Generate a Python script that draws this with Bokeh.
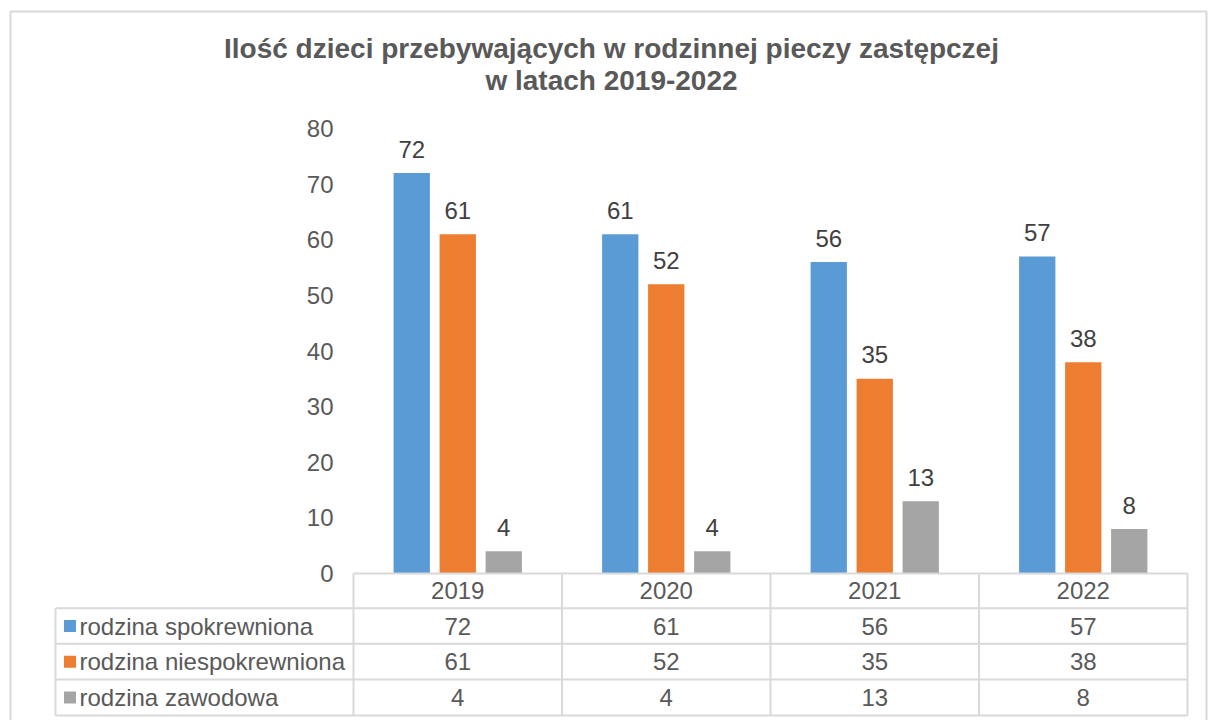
from bokeh.plotting import figure
from bokeh.models import Range1d, LinearAxis, FixedTicker, ColumnDataSource
from bokeh.core.properties import value
from bokeh.embed import file_html
from bokeh.resources import INLINE

# ---- data ----
years = ["2019", "2020", "2021", "2022"]
series_names = ["rodzina spokrewniona", "rodzina niespokrewniona", "rodzina zawodowa"]
spokrewniona = [72, 61, 56, 57]
niespokrewniona = [61, 52, 35, 38]
zawodowa = [4, 4, 13, 8]
y_ticks = [0, 10, 20, 30, 40, 50, 60, 70, 80]
title_lines = ["Ilość dzieci przebywających w rodzinnej pieczy zastępczej", "w latach 2019-2022"]

series_values = [spokrewniona, niespokrewniona, zawodowa]
colors = ["#5b9bd5", "#ed7d31", "#a5a5a5"]

# ---- layout helpers (page pixel -> data) ----
X0, XS = 353.0, 208.5      # page x of category 0, px per category
Y0, YS = 573.0, 5.5625     # page y of value 0, px per unit
def dx(px): return (px - X0) / XS
def dy(py): return (Y0 - py) / YS

W, H = 1208, 720
OFF = 0
FONT = "Liberation Sans"
TXT = "#595959"
FS = "24px"

p = figure(width=W, height=H, output_backend="svg", toolbar_location=None,
           x_range=Range1d(dx(OFF), dx(OFF + W)), y_range=Range1d(dy(OFF + H), dy(OFF)),
           x_axis_location=None, y_axis_location=None, min_border=0,
           tools="")
p.outline_line_color = None
p.grid.visible = False
p.background_fill_color = "white"
p.border_fill_color = "white"

# outer chart border
p.line([dx(10), dx(10), dx(1206), dx(1206)], [dy(725), dy(11), dy(11), dy(725)],
       line_color="#d9d9d9", line_width=2)

# title
for i, t in enumerate(title_lines):
    p.text([dx(611)], [dy(48 + 32 * i)], text=[t], text_align="center", text_baseline="middle",
           text_font=value(FONT), text_font_size="28px", text_font_style="bold", text_color=TXT)

# y axis at x = 0
yax = LinearAxis(fixed_location=0, ticker=FixedTicker(ticks=y_ticks),
                 axis_line_color=None, major_tick_line_color=None, minor_tick_line_color=None,
                 major_label_standoff=14, major_label_text_font=FONT,
                 major_label_text_font_size=FS, major_label_text_color=TXT)
p.add_layout(yax, "left")

# bars
bw = 36.3 / XS
offsets = [-46.0 / XS, 0.0, 46.0 / XS]
for name, vals, col, off in zip(series_names, series_values, colors, offsets):
    xs = [i + 0.5 + off for i in range(len(years))]
    src = ColumnDataSource(dict(x=xs, top=vals, lab=[str(v) for v in vals]))
    p.vbar(x="x", top="top", bottom=0, width=bw, source=src, fill_color=col, line_color=None)
    p.text(x="x", y="top", text="lab", source=src, text_align="center", text_baseline="middle",
           y_offset=-24, text_font=value(FONT), text_font_size=FS, text_color="#404040")

# data table
rows_px = [573, 607.7, 643.3, 679, 715]
row_y = [dy(v) for v in rows_px]
grid_col = "#d9d9d9"
# horizontal lines
p.segment(x0=[0], y0=[row_y[0]], x1=[len(years)], y1=[row_y[0]], line_color=grid_col, line_width=2)
p.segment(x0=[dx(55)] * 4, y0=row_y[1:], x1=[len(years)] * 4, y1=row_y[1:], line_color=grid_col, line_width=2)
# vertical lines
p.segment(x0=list(range(len(years) + 1)), y0=[row_y[0]] * (len(years) + 1),
          x1=list(range(len(years) + 1)), y1=[row_y[-1]] * (len(years) + 1),
          line_color=grid_col, line_width=2)
p.segment(x0=[dx(55)], y0=[row_y[1]], x1=[dx(55)], y1=[row_y[-1]], line_color=grid_col, line_width=2)

# header: years
hy = (row_y[0] + row_y[1]) / 2
p.text(x=[i + 0.5 for i in range(len(years))], y=[hy] * len(years), text=years,
       text_align="center", text_baseline="middle", text_font=value(FONT),
       text_font_size=FS, text_color=TXT)

# rows
for r, (name, vals, col) in enumerate(zip(series_names, series_values, colors)):
    cy = (row_y[r + 1] + row_y[r + 2]) / 2
    p.rect(x=[dx(69.5)], y=[cy], width=12, height=12, width_units="screen", height_units="screen",
           fill_color=col, line_color=None)
    p.text(x=[dx(79)], y=[cy], text=[name], text_align="left", text_baseline="middle",
           text_font=value(FONT), text_font_size=FS, text_color=TXT)
    p.text(x=[i + 0.5 for i in range(len(years))], y=[cy] * len(years), text=[str(v) for v in vals],
           text_align="center", text_baseline="middle", text_font=value(FONT),
           text_font_size=FS, text_color=TXT)

open("out.html", "w").write(file_html(p, INLINE))
